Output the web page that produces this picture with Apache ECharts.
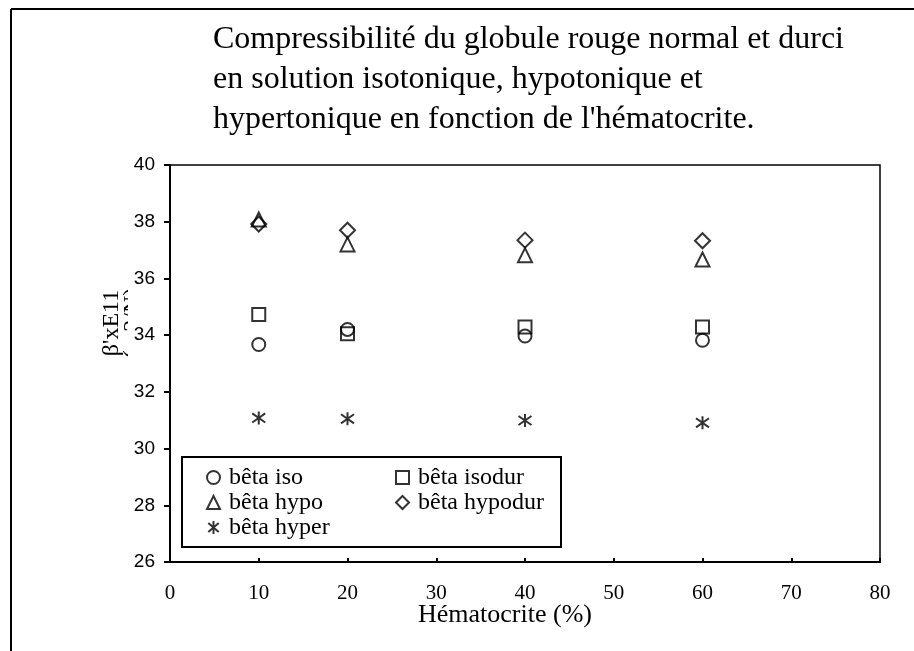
<!DOCTYPE html>
<html>
<head>
<meta charset="utf-8">
<script src="https://cdn.jsdelivr.net/npm/echarts@6/dist/echarts.min.js"></script>
<style>
  html, body { margin: 0; padding: 0; background: #fff; }
  #chart { width: 914px; height: 651px; }
</style>
</head>
<body>
<div id="chart"></div>
<script>
// Hématocrite (%) sampled for every series
const hematocrite = [10, 20, 40, 60];

// Compressibility values, β' x E11 (m2/N)
const betaIso     = [33.67, 34.2, 33.97, 33.82];
const betaIsodur  = [34.73, 34.05, 34.29, 34.29];
const betaHypo    = [38.08, 37.2, 36.82, 36.67];
const betaHypodur = [37.92, 37.7, 37.35, 37.33];
const betaHyper   = [31.08, 31.05, 30.99, 30.91];

const xTicks = [0, 10, 20, 30, 40, 50, 60, 70, 80];
const yTicks = [26, 28, 30, 32, 34, 36, 38, 40];

const titleLines = [
  'Compressibilité du globule rouge normal et durci',
  'en solution isotonique, hypotonique et',
  "hypertonique en fonction de l'hématocrite."
];

const SERIF = '"Liberation Serif", "Times New Roman", serif';
const SANS = '"Liberation Sans", Arial, sans-serif';

// six-armed star: a cross of diagonals with a vertical bar
const asterisk = 'path://M0,-10L0,10M-8,-7L8,7M-8,7L8,-7';

function pairs(vals) {
  return hematocrite.map((x, i) => [x, vals[i]]);
}

function scatter(name, vals, symbol, size) {
  return {
    name: name,
    type: 'scatter',
    data: pairs(vals),
    symbol: symbol,
    symbolSize: size,
    itemStyle: { color: 'rgba(0,0,0,0)', borderColor: '#000', borderWidth: 2 },
    emphasis: { disabled: true }
  };
}

const chart = echarts.init(document.getElementById('chart'), null, { renderer: 'canvas' });

const legendText = { fontFamily: SERIF, fontSize: 24, lineHeight: 25, color: '#000', padding: [0, 0, 0, 4] };
const legendCommon = {
  orient: 'vertical', top: 465, padding: 0,
  itemWidth: 13, itemHeight: 13, itemGap: 0,
  textStyle: legendText, selectedMode: false,
  itemStyle: { borderWidth: 2 }
};

chart.setOption({
  animation: false,
  backgroundColor: '#fff',
  grid: {
    left: 170, right: 34, top: 165, bottom: 89,
    show: true, borderColor: '#000', borderWidth: 1.5, backgroundColor: 'transparent'
  },
  xAxis: {
    type: 'value',
    min: xTicks[0], max: xTicks[xTicks.length - 1], interval: 10,
    axisLine: { lineStyle: { color: '#000', width: 2 } },
    axisTick: { show: true, inside: true, length: 4, lineStyle: { color: '#000', width: 2 } },
    axisLabel: { margin: 21, fontFamily: SERIF, fontSize: 21, color: '#000' },
    splitLine: { show: false }
  },
  yAxis: {
    type: 'value', z: 20,
    min: yTicks[0], max: yTicks[yTicks.length - 1], interval: 2,
    axisLine: { lineStyle: { color: '#000', width: 2 } },
    axisTick: { show: true, length: 6, lineStyle: { color: '#000', width: 2 } },
    axisLabel: { margin: 15, fontFamily: SANS, fontSize: 19, color: '#000' },
    splitLine: { show: false }
  },
  legend: [
    Object.assign({ data: ['bêta iso', 'bêta hypo', 'bêta hyper'], left: 206 }, legendCommon),
    Object.assign({ data: ['bêta isodur', 'bêta hypodur'], left: 395 }, legendCommon)
  ],
  graphic: [
    // outer frame (top and left edges)
    { type: 'line', shape: { x1: 11, y1: 9, x2: 914, y2: 9 }, style: { stroke: '#000', lineWidth: 2 } },
    { type: 'line', shape: { x1: 11, y1: 9, x2: 11, y2: 651 }, style: { stroke: '#000', lineWidth: 2 } },
    // legend box
    { type: 'rect', shape: { x: 182, y: 457, width: 379, height: 90 },
      style: { fill: '#fff', stroke: '#000', lineWidth: 2 }, z: 3 },
    // title block
    { type: 'text', left: 213, top: 20, z: 10,
      style: { text: titleLines.join('\n'), fontFamily: SERIF, fontSize: 32, lineHeight: 40, fill: '#000' } },
    // x axis title
    { type: 'text', x: 505, y: 615, z: 10,
      style: { text: 'Hématocrite (%)', fontFamily: SERIF, fontSize: 26, fill: '#000', align: 'center', verticalAlign: 'middle' } },
    // y axis title (second line is cut off at its right side)
    { type: 'text', x: 112, y: 323, rotation: Math.PI / 2, z: 10,
      style: { text: "β'xE11", fontFamily: SERIF, fontSize: 24, fill: '#000', align: 'center', verticalAlign: 'middle' } },
    { type: 'text', x: 133, y: 323, rotation: Math.PI / 2, z: 10,
      style: { text: '(m2/N)', fontFamily: SERIF, fontSize: 24, fill: '#000', align: 'center', verticalAlign: 'middle' } },
    { type: 'rect', shape: { x: 128, y: 280, width: 25, height: 90 }, style: { fill: '#fff' }, z: 11 }
  ],
  series: [
    scatter('bêta iso', betaIso, 'circle', 13),
    scatter('bêta isodur', betaIsodur, 'rect', 13),
    scatter('bêta hypo', betaHypo, 'triangle', 14),
    scatter('bêta hypodur', betaHypodur, 'diamond', 15),
    scatter('bêta hyper', betaHyper, asterisk, [13, 13])
  ]
});
</script>
</body>
</html>
